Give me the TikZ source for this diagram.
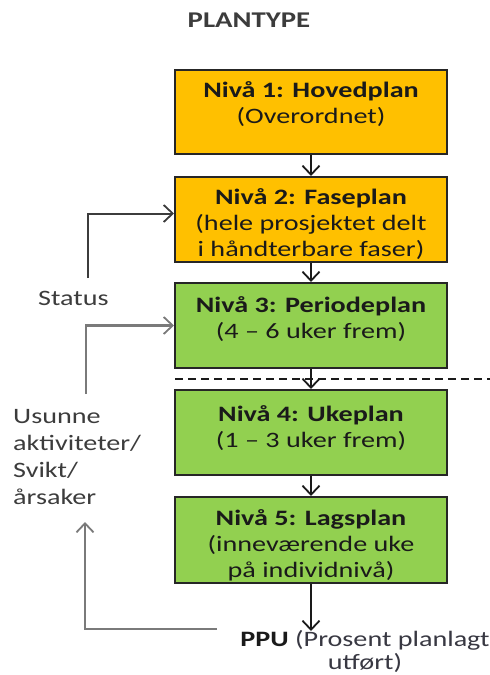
\documentclass[tikz,border=0pt]{standalone}
\usepackage{fontspec}
\setmainfont{Carlito}[FakeStretch=1.28]
\usetikzlibrary{arrows.meta}
\definecolor{lvlorange}{HTML}{FFC000}
\definecolor{lvlgreen}{HTML}{92D050}
\definecolor{framecol}{HTML}{262626}
\definecolor{inkdark}{HTML}{1A1A1A}
\definecolor{inksoft}{HTML}{3C3C3C}
\definecolor{inkppu}{HTML}{383842}
\definecolor{loopgray}{HTML}{7A7A7A}
\begin{document}
\begin{tikzpicture}[x=1pt,y=-1pt,
  level/.style={draw=framecol, line width=2pt, minimum width=272pt, inner sep=0pt},
  boxtxt/.style={font=\fontsize{22}{26}\selectfont, align=center, inner sep=0pt, text=inkdark},
  sidetxt/.style={font=\fontsize{22}{27}\selectfont, align=left, inner sep=0pt, text=inksoft},
  tip/.style={-{Straight Barb[length=9pt,width=17pt,line width=1.8pt]}},
  flow/.style={draw=inkdark, line width=1.8pt, tip},
  status/.style={draw=inksoft, line width=2pt, tip},
  loop/.style={draw=loopgray, line width=2.4pt, tip},
  horizon/.style={draw=inkdark, line width=1.5pt, dash pattern=on 8pt off 5pt}
]
\useasboundingbox (0,0) rectangle (490,675);

% heading
\node[font=\fontsize{22.5}{24}\bfseries\selectfont, text=inksoft, inner sep=0pt] (title) at (249,20) {PLANTYPE};

% planning levels
\node[level, fill=lvlorange, minimum height=84pt] (b1) at (311,112) {};
\node[level, fill=lvlorange, minimum height=85pt] (b2) at (311,219.5) {};
\node[level, fill=lvlgreen,  minimum height=85pt] (b3) at (311,325.5) {};
\node[level, fill=lvlgreen,  minimum height=85pt] (b4) at (311,432.5) {};
\node[level, fill=lvlgreen,  minimum height=86pt] (b5) at (311,540) {};

\node[boxtxt] (t1) at (311,104.5) {\textbf{Nivå 1: Hovedplan}\\(Overordnet)};
\node[boxtxt] (t2) at (311,224) {\textbf{Nivå 2: Faseplan}\\(hele prosjektet delt\\i håndterbare faser)};
\node[boxtxt] (t3) at (311,319) {\textbf{Nivå 3: Periodeplan}\\(4 – 6 uker frem)};
\node[boxtxt] (t4) at (311,428) {\textbf{Nivå 4: Ukeplan}\\(1 – 3 uker frem)};
\node[boxtxt] (t5) at (311,545.5) {\textbf{Nivå 5: Lagsplan}\\(inneværende uke\\på individnivå)};

% flow between levels
\draw[flow] (b1) -- (b2);
\draw[flow] (b2) -- (b3);
\draw[flow] (b3) -- (b4);
\draw[flow] (b4) -- (b5);

% dashed horizon between level 3 and level 4
\coordinate (h1) at (175,379);
\coordinate (h2) at (492,379);
\draw[horizon] (h1) -- (h2);

% PPU result
\node[font=\fontsize{22}{23}\selectfont, align=center, inner sep=0pt, text=inkppu] (ppu) at (365,651.5)
  {{\color{inkdark}\textbf{PPU}} (Prosent planlagt\\utført)};
\coordinate (ppuin) at (311,631);
\draw[flow] (b5) -- (ppuin);

% side labels
\node[sidetxt, anchor=base west] (status) at (38,305) {Status};
\node[sidetxt, anchor=west] (usunne) at (13,457) {Usunne\\aktiviteter/\\Svikt/\\årsaker};

% status feedback to level 2
\coordinate (st) at (88,278);
\draw[status] (st) |- ([yshift=6pt]b2.west);

% deviation feedback to level 3
\coordinate (uo) at (86,394);
\draw[loop] (uo) |- (b3.west);

% PPU feedback up to the deviation list
\coordinate (fb) at (217,629);
\coordinate (fbtip) at (85,522);
\draw[loop] (fb) -| (fbtip);
\end{tikzpicture}
\end{document}
